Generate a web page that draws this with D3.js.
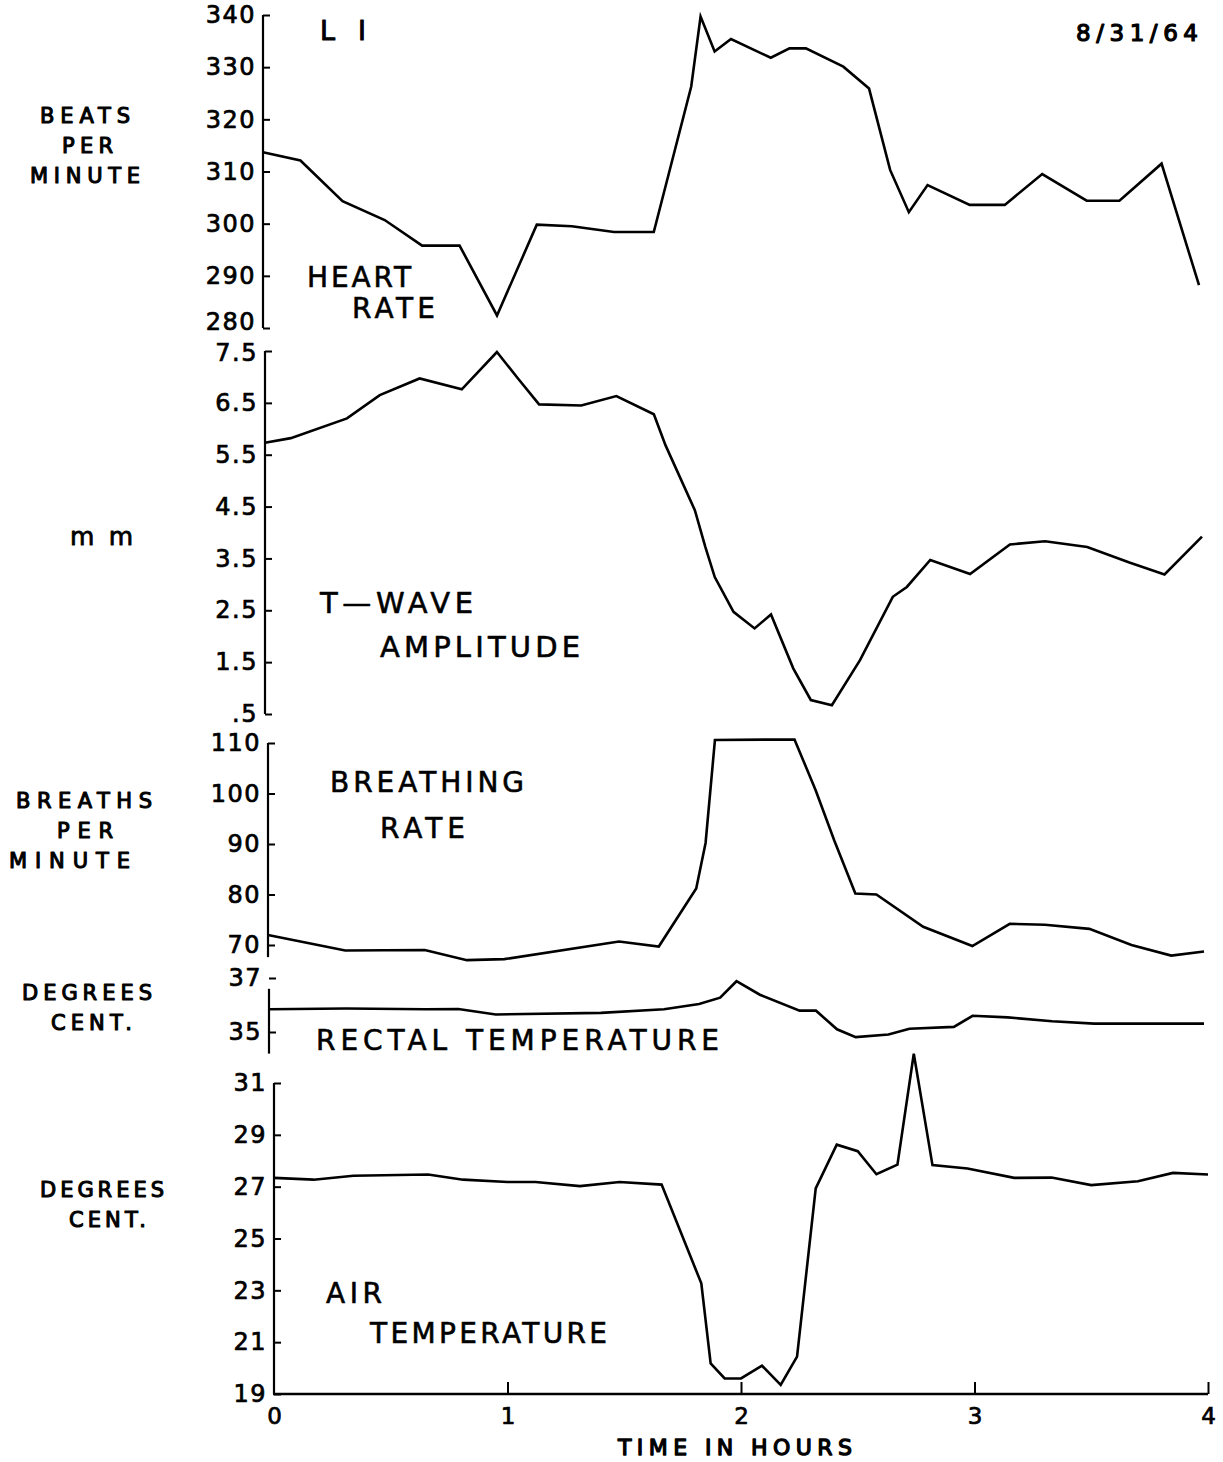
<!DOCTYPE html>
<html>
<head>
<meta charset="utf-8">
<script src="https://cdn.jsdelivr.net/npm/d3@7"></script>
<style>
  body { margin: 0; background: #fff; }
  svg { display: block; }
  text { font-family: "DejaVu Sans", sans-serif; fill: #000; }
</style>
</head>
<body>
<div id="chart"></div>
<script>
// time axis, hours
var hourTicks = [0, 1, 2, 3, 4];

// heart rate, beats per minute
var heartT = [0, 0.16, 0.34, 0.52, 0.68, 0.84, 1.0, 1.17, 1.32, 1.5, 1.67, 1.83, 1.87, 1.93, 2.0, 2.17, 2.25, 2.32, 2.48, 2.59, 2.68, 2.76, 2.84, 3.02, 3.17, 3.33, 3.52, 3.66, 3.84, 4.0];
var heartV = [313.7, 312.1, 304.3, 300.7, 295.8, 295.8, 282.4, 299.8, 299.5, 298.4, 298.4, 326.3, 339.7, 333.0, 335.4, 331.8, 333.6, 333.6, 330.1, 325.9, 310.3, 302.2, 307.4, 303.6, 303.6, 309.5, 304.4, 304.4, 311.5, 288.2];
var heartTicks = [280, 290, 300, 310, 320, 330, 340];

// T-wave amplitude, mm
var twaveT = [0, 0.11, 0.35, 0.49, 0.66, 0.84, 0.99, 1.08, 1.17, 1.35, 1.5, 1.66, 1.71, 1.835, 1.88, 1.92, 2.0, 2.09, 2.16, 2.255, 2.33, 2.42, 2.54, 2.68, 2.74, 2.84, 3.01, 3.18, 3.33, 3.51, 3.69, 3.84, 4.0];
var twaveV = [5.73, 5.82, 6.2, 6.65, 6.97, 6.76, 7.48, 6.97, 6.47, 6.45, 6.63, 6.28, 5.68, 4.43, 3.72, 3.14, 2.47, 2.15, 2.42, 1.38, 0.77, 0.67, 1.54, 2.76, 2.95, 3.47, 3.2, 3.77, 3.83, 3.72, 3.42, 3.19, 3.92];
var twaveTicks = [0.5, 1.5, 2.5, 3.5, 4.5, 5.5, 6.5, 7.5];

// breathing rate, breaths per minute
var breathT = [0, 0.33, 0.67, 0.85, 1.01, 1.5, 1.67, 1.83, 1.87, 1.91, 2.25, 2.34, 2.42, 2.51, 2.6, 2.8, 3.01, 3.17, 3.32, 3.51, 3.69, 3.86, 4.0];
var breathV = [72.0, 68.9, 69.0, 67.0, 67.2, 70.7, 69.7, 81.2, 90.2, 110.6, 110.7, 100.7, 90.7, 80.2, 80.0, 73.6, 69.8, 74.2, 74.0, 73.2, 70.0, 67.9, 68.7];
var breathTicks = [70, 80, 90, 100, 110];

// rectal temperature, degrees C
var rectalT = [0, 0.33, 0.67, 0.81, 0.97, 1.42, 1.69, 1.84, 1.93, 2.0, 2.1, 2.27, 2.34, 2.43, 2.51, 2.65, 2.74, 2.93, 3.01, 3.16, 3.35, 3.53, 3.85, 4.0];
var rectalV = [35.84, 35.87, 35.84, 35.85, 35.65, 35.71, 35.84, 36.04, 36.27, 36.88, 36.38, 35.79, 35.79, 35.1, 34.81, 34.91, 35.12, 35.19, 35.6, 35.54, 35.4, 35.31, 35.31, 35.31];
var rectalTicks = [35, 37];

// air temperature, degrees C
var airT = [0, 0.17, 0.34, 0.66, 0.81, 1.0, 1.12, 1.31, 1.48, 1.66, 1.83, 1.87, 1.93, 2.0, 2.09, 2.17, 2.24, 2.32, 2.41, 2.5, 2.58, 2.67, 2.74, 2.82, 2.97, 3.17, 3.33, 3.5, 3.7, 3.85, 4.0];
var airV = [27.34, 27.27, 27.42, 27.47, 27.27, 27.18, 27.18, 27.02, 27.18, 27.08, 23.27, 20.18, 19.6, 19.6, 20.09, 19.35, 20.44, 26.93, 28.62, 28.37, 27.48, 27.85, 32.13, 27.83, 27.7, 27.34, 27.35, 27.06, 27.21, 27.53, 27.47];
var airTicks = [19, 21, 23, 25, 27, 29, 31];

var width = 1223, height = 1462;

var svg = d3.select("#chart").append("svg")
	.attr("width", width)
	.attr("height", height);

// one block per strip, all sharing the hour axis
// lift/drop nudge the end tick labels so neighbouring strips don't collide
var panels = [
	{t: heartT, v: heartV, ticks: heartTicks, dom: [280, 340], yr: [328, 15], axis: [280, 340], x0: 263, x1: 1199, lift: 6, drop: 0, fmt: d3.format("d")},
	{t: twaveT, v: twaveV, ticks: twaveTicks, dom: [0.5, 7.5], yr: [714, 351], axis: [0.5, 7.5], x0: 265, x1: 1202, lift: 0, drop: 2, fmt: function(d) { return d == 0.5 ? ".5" : d.toFixed(1); }},
	{t: breathT, v: breathV, ticks: breathTicks, dom: [70, 110], yr: [945, 743], axis: [67.6, 110], x0: 268, x1: 1204, lift: 0, drop: 0, fmt: d3.format("d")},
	{t: rectalT, v: rectalV, ticks: rectalTicks, dom: [35, 37], yr: [1032, 978], axis: [34.2, 36.6], x0: 269, x1: 1204, lift: 0, drop: 0, fmt: d3.format("d")},
	{t: airT, v: airV, ticks: airTicks, dom: [19, 31], yr: [1394, 1083], axis: [19, 31], x0: 274, x1: 1208, lift: 0, drop: 0, fmt: d3.format("d")}
];

// thicker pen for the hand lettering
function inked(sel, w) {
	sel.attr("stroke", "#000")
		.attr("stroke-width", w)
		.attr("stroke-linejoin", "round");
}

panels.forEach(function(p, i) {
	var x = d3.scaleLinear().domain([0, 4]).range([p.x0, p.x1]);
	var y = d3.scaleLinear().domain(p.dom).range(p.yr);
	var g = svg.append("g");

	// vertical axis line
	g.append("line")
		.attr("x1", p.x0).attr("x2", p.x0)
		.attr("y1", y(p.axis[0])).attr("y2", y(p.axis[1]))
		.attr("stroke", "#000")
		.attr("stroke-width", 2.2);

	// ticks point inward, labels on the left
	var ax = g.append("g")
		.attr("transform", "translate(" + p.x0 + ",0)")
		.call(d3.axisLeft(y).tickValues(p.ticks).tickSize(-7).tickPadding(7).tickFormat(p.fmt));
	ax.select(".domain").remove();
	ax.selectAll(".tick line").attr("stroke", "#000").attr("stroke-width", 2);
	ax.selectAll(".tick text")
		.style("font-size", "24px")
		.style("letter-spacing", "1.5px")
		.style("font-family", "DejaVu Sans, sans-serif")
		.attr("fill", "#000")
		.attr("y", function(d) {
			if (d == p.dom[0]) return -p.lift;
			if (d == p.dom[1]) return p.drop;
			return 0;
		})
		.call(inked, 0.7);

	var line = d3.line()
		.x(function(d) { return x(d[0]); })
		.y(function(d) { return y(d[1]); });

	g.append("path")
		.datum(d3.zip(p.t, p.v))
		.attr("d", line)
		.attr("fill", "none")
		.attr("stroke", "#000")
		.attr("stroke-width", 2.6)
		.attr("stroke-linejoin", "miter");

	// the bottom strip carries the time axis
	if (i == panels.length - 1) {
		var xa = svg.append("g")
			.attr("transform", "translate(0," + p.yr[0] + ")")
			.call(d3.axisBottom(x).tickValues(hourTicks).tickSize(-12).tickPadding(14).tickFormat(d3.format("d")));
		xa.select(".domain")
			.attr("d", "M" + (p.x0 - 1) + ",0H" + p.x1)
			.attr("stroke", "#000")
			.attr("stroke-width", 2.4);
		xa.selectAll(".tick line").attr("stroke", "#000").attr("stroke-width", 2);
		xa.selectAll(".tick").filter(function(d) { return d == 0; }).select("line").remove();
		xa.selectAll(".tick text")
			.style("font-size", "23px")
			.style("font-family", "DejaVu Sans, sans-serif")
			.attr("fill", "#000")
			.call(inked, 0.7);
	}
});

// lettering on the sheet
var labels = [
	{s: "L I", x: 320, y: 40, w: 46, size: 27, ink: 1},
	{s: "8/31/64", x: 1076, y: 41, w: 122, size: 23, ink: 1.2},
	{s: "BEATS", x: 40, y: 123, w: 90, size: 21, ink: 1.1},
	{s: "PER", x: 62, y: 153, w: 51, size: 21, ink: 1.1},
	{s: "MINUTE", x: 30, y: 183, w: 110, size: 21, ink: 1.1},
	{s: "HEART", x: 307, y: 287, w: 104, size: 28, ink: 0.6},
	{s: "RATE", x: 352, y: 318, w: 83, size: 28, ink: 0.6},
	{s: "m m", x: 70, y: 545, w: 63, size: 25, ink: 0.8},
	{s: "T\u2014WAVE", x: 320, y: 613, w: 153, size: 29, ink: 0.6},
	{s: "AMPLITUDE", x: 380, y: 657, w: 200, size: 29, ink: 0.6},
	{s: "BREATHS", x: 16, y: 808, w: 136, size: 21, ink: 1.1},
	{s: "PER", x: 57, y: 838, w: 56, size: 21, ink: 1.1},
	{s: "MINUTE", x: 9, y: 868, w: 121, size: 21, ink: 1.1},
	{s: "BREATHING", x: 330, y: 792, w: 194, size: 28, ink: 0.6},
	{s: "RATE", x: 380, y: 838, w: 85, size: 28, ink: 0.6},
	{s: "DEGREES", x: 22, y: 1000, w: 130, size: 21, ink: 1.1},
	{s: "CENT.", x: 51, y: 1030, w: 81, size: 21, ink: 1.1},
	{s: "RECTAL  TEMPERATURE", x: 316, y: 1050, w: 403, size: 28, ink: 0.6},
	{s: "DEGREES", x: 40, y: 1197, w: 124, size: 21, ink: 1.1},
	{s: "CENT.", x: 69, y: 1227, w: 77, size: 21, ink: 1.1},
	{s: "AIR", x: 326, y: 1303, w: 56, size: 28, ink: 0.6},
	{s: "TEMPERATURE", x: 370, y: 1343, w: 237, size: 28, ink: 0.6},
	{s: "TIME IN HOURS", x: 618, y: 1455, w: 234, size: 22, ink: 1.3}
];

svg.selectAll(".lbl")
	.data(labels)
	.enter().append("text")
	.attr("class", "lbl")
	.attr("x", function(d) { return d.x; })
	.attr("y", function(d) { return d.y; })
	.attr("textLength", function(d) { return d.w; })
	.attr("lengthAdjust", "spacing")
	.attr("stroke", "#000")
	.attr("stroke-width", function(d) { return d.ink; })
	.attr("stroke-linejoin", "round")
	.style("font-size", function(d) { return d.size + "px"; })
	.text(function(d) { return d.s; });
</script>
</body>
</html>
